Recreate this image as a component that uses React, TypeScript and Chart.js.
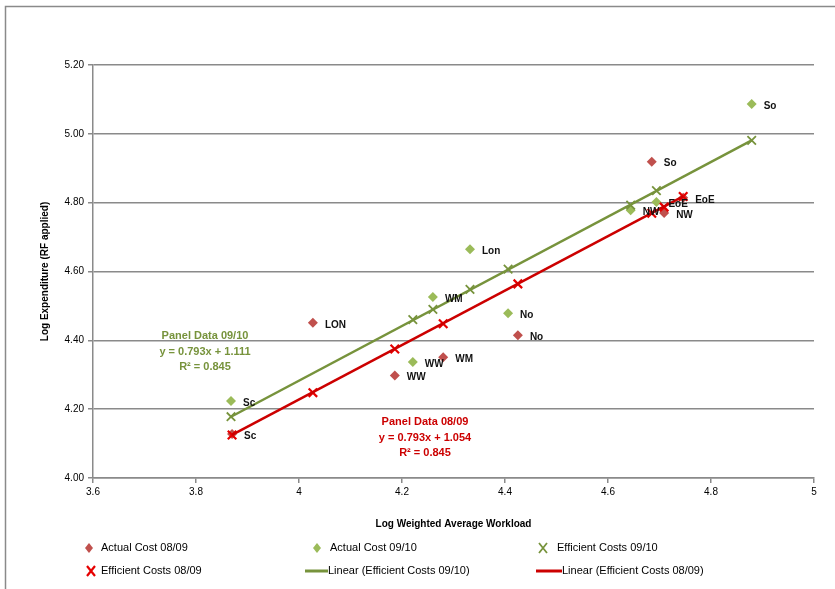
import React, { useEffect, useRef } from "react";
import { Chart, registerables } from "chart.js";

Chart.register(...registerables);

// ---- Data ----
const act0809Names = ["Sc", "LON", "WW", "WM", "No", "So", "NW", "EoE"];
const act0809X = [3.870, 4.027, 4.186, 4.280, 4.425, 4.685, 4.709, 4.746];
const act0809Y = [4.128, 4.451, 4.298, 4.351, 4.415, 4.919, 4.770, 4.814];

const act0910Names = ["Sc", "WW", "WM", "Lon", "No", "NW", "EoE", "So"];
const act0910X = [3.868, 4.221, 4.260, 4.332, 4.406, 4.644, 4.694, 4.879];
const act0910Y = [4.224, 4.337, 4.526, 4.665, 4.479, 4.778, 4.802, 5.087];

const eff0910X = [3.868, 4.221, 4.260, 4.332, 4.406, 4.644, 4.694, 4.879];
const eff0910Y = [4.178, 4.460, 4.490, 4.548, 4.607, 4.793, 4.835, 4.981];

const eff0809X = [3.870, 4.027, 4.186, 4.280, 4.425, 4.685, 4.709, 4.746];
const eff0809Y = [4.125, 4.248, 4.375, 4.448, 4.564, 4.769, 4.787, 4.818];

const lin0910X = [3.868, 4.879];
const lin0910Y = [4.178, 4.981];
const lin0809X = [3.870, 4.746];
const lin0809Y = [4.125, 4.818];

const xTicks = { min: 3.6, max: 5.0, step: 0.2 };
const yTicks = { min: 4.0, max: 5.2, step: 0.2 };

const seriesNames = [
  "Actual Cost 08/09",
  "Actual Cost 09/10",
  "Efficient Costs 09/10",
  "Efficient Costs 08/09",
  "Linear (Efficient Costs 09/10)",
  "Linear (Efficient Costs 08/09)",
];

const xTitle = "Log Weighted Average Workload";
const yTitle = "Log Expenditure (RF applied)";
const note0910 = ["Panel Data 09/10", "y = 0.793x + 1.111", "R\u00B2 = 0.845"];
const note0809 = ["Panel Data 08/09", "y = 0.793x + 1.054", "R\u00B2 = 0.845"];

// ---- Styles ----
const RED_D = "#C0504D";
const GREEN_D = "#9BBB59";
const GREEN_X = "#77933C";
const RED_X = "#E60000";
const GREEN_L = "#77933C";
const RED_L = "#CC0000";
const FONT = "'Liberation Sans Narrow', 'Liberation Sans', Arial, sans-serif";

const pts = (xs: number[], ys: number[]) => xs.map((x, i) => ({ x, y: ys[i] }));

const overlayPlugin = {
  id: "overlay",
  beforeDraw(chart: any) {
    const ctx = chart.ctx;
    ctx.save();
    ctx.strokeStyle = "#8a8a8a";
    ctx.lineWidth = 1.5;
    ctx.strokeRect(5.5, 6.5, 900, 700);
    ctx.restore();
  },
  afterDraw(chart: any) {
    const ctx = chart.ctx;
    const xs = chart.scales.x;
    const ys = chart.scales.y;
    ctx.save();
    // point labels
    ctx.font = `bold 10px ${FONT}`;
    ctx.fillStyle = "#111";
    ctx.textBaseline = "middle";
    ctx.textAlign = "left";
    const lab = (names: string[], X: number[], Y: number[]) => {
      names.forEach((n, i) => {
        ctx.fillText(n, xs.getPixelForValue(X[i]) + 12, ys.getPixelForValue(Y[i]) + 2);
      });
    };
    lab(act0809Names, act0809X, act0809Y);
    lab(act0910Names, act0910X, act0910Y);

    // annotations
    ctx.font = `bold 11px ${FONT}`;
    ctx.textAlign = "center";
    ctx.fillStyle = GREEN_L;
    note0910.forEach((t, i) => ctx.fillText(t, 205, 336 + i * 15.5));
    ctx.fillStyle = RED_L;
    note0809.forEach((t, i) => ctx.fillText(t, 425, 422 + i * 15.5));

    // axis titles
    ctx.fillStyle = "#000";
    ctx.font = `bold 10px ${FONT}`;
    ctx.fillText(xTitle, (chart.chartArea.left + chart.chartArea.right) / 2, 524);
    ctx.save();
    ctx.translate(45, (chart.chartArea.top + chart.chartArea.bottom) / 2);
    ctx.rotate(-Math.PI / 2);
    ctx.fillText(yTitle, 0, 0);
    ctx.restore();

    // legend
    ctx.font = `11px ${FONT}`;
    ctx.textAlign = "left";
    ctx.fillStyle = "#000";
    const diamond = (x: number, y: number, c: string) => {
      ctx.fillStyle = c;
      ctx.beginPath();
      ctx.moveTo(x, y - 5);
      ctx.lineTo(x + 4, y);
      ctx.lineTo(x, y + 5);
      ctx.lineTo(x - 4, y);
      ctx.closePath();
      ctx.fill();
    };
    const cross = (x: number, y: number, c: string, w: number) => {
      ctx.strokeStyle = c;
      ctx.lineWidth = w;
      ctx.beginPath();
      ctx.moveTo(x - 4, y - 5);
      ctx.lineTo(x + 4, y + 5);
      ctx.moveTo(x + 4, y - 5);
      ctx.lineTo(x - 4, y + 5);
      ctx.stroke();
    };
    const line = (x1: number, x2: number, y: number, c: string) => {
      ctx.strokeStyle = c;
      ctx.lineWidth = 3;
      ctx.beginPath();
      ctx.moveTo(x1, y);
      ctx.lineTo(x2, y);
      ctx.stroke();
    };
    const text = (t: string, x: number, y: number) => {
      ctx.fillStyle = "#000";
      ctx.fillText(t, x, y);
    };
    const r1 = 548, r2 = 571;
    diamond(89, r1, RED_D);
    text(seriesNames[0], 101, r1);
    diamond(317, r1, GREEN_D);
    text(seriesNames[1], 330, r1);
    cross(543, r1, GREEN_X, 1.8);
    text(seriesNames[2], 557, r1);
    cross(91, r2, RED_X, 2.2);
    text(seriesNames[3], 101, r2);
    line(305, 328, r2, GREEN_L);
    text(seriesNames[4], 328, r2);
    line(536, 562, r2, RED_L);
    text(seriesNames[5], 562, r2);
    ctx.restore();
  },
};

export default function App() {
  const ref = useRef<HTMLCanvasElement | null>(null);
  useEffect(() => {
    if (!ref.current) return;
    const chart = new Chart(ref.current, {
      type: "scatter",
      data: {
        datasets: [
          {
            label: seriesNames[0],
            data: pts(act0809X, act0809Y),
            pointStyle: "rectRot",
            pointRadius: 5,
            backgroundColor: RED_D,
            borderColor: RED_D,
            borderWidth: 0,
            order: 6,
          },
          {
            label: seriesNames[1],
            data: pts(act0910X, act0910Y),
            pointStyle: "rectRot",
            pointRadius: 5,
            backgroundColor: GREEN_D,
            borderColor: GREEN_D,
            borderWidth: 0,
            order: 5,
          },
          {
            label: seriesNames[2],
            data: pts(eff0910X, eff0910Y),
            pointStyle: "crossRot",
            pointRadius: 6,
            borderColor: GREEN_X,
            backgroundColor: GREEN_X,
            borderWidth: 1.8,
            order: 4,
          },
          {
            label: seriesNames[3],
            data: pts(eff0809X, eff0809Y),
            pointStyle: "crossRot",
            pointRadius: 6,
            borderColor: RED_X,
            backgroundColor: RED_X,
            borderWidth: 2.2,
            order: 3,
          },
          {
            type: "line",
            label: seriesNames[4],
            data: pts(lin0910X, lin0910Y),
            borderColor: GREEN_L,
            borderWidth: 2.5,
            pointRadius: 0,
            showLine: true,
            fill: false,
            order: 2,
          } as any,
          {
            type: "line",
            label: seriesNames[5],
            data: pts(lin0809X, lin0809Y),
            borderColor: RED_L,
            borderWidth: 2.5,
            pointRadius: 0,
            showLine: true,
            fill: false,
            order: 1,
          } as any,
        ],
      },
      options: {
        responsive: false,
        animation: false,
        layout: { padding: { top: 65, right: 21, left: 0, bottom: 0 } },
        plugins: {
          legend: { display: false },
          tooltip: { enabled: false },
        },
        scales: {
          x: {
            type: "linear",
            min: xTicks.min,
            max: xTicks.max,
            ticks: {
              stepSize: xTicks.step,
              color: "#000",
              font: { family: FONT, size: 10 },
              padding: 3,
              callback: (v: any) => String(Math.round(Number(v) * 10) / 10),
            },
            grid: {
              drawOnChartArea: false,
              drawTicks: true,
              tickLength: 5,
              color: "#8a8a8a",
              lineWidth: 1.5,
            },
            border: { color: "#8a8a8a", width: 1.5 },
            afterFit: (s: any) => {
              s.height = 111;
            },
          },
          y: {
            type: "linear",
            min: yTicks.min,
            max: yTicks.max,
            ticks: {
              stepSize: yTicks.step,
              color: "#000",
              font: { family: FONT, size: 10 },
              padding: 4,
              callback: (v: any) => Number(v).toFixed(2),
            },
            grid: {
              drawTicks: true,
              tickLength: 5,
              color: "#8a8a8a",
              lineWidth: 1.5,
            },
            border: { color: "#8a8a8a", width: 1.5 },
            afterFit: (s: any) => {
              s.width = 93;
            },
          },
        },
      },
      plugins: [overlayPlugin],
    } as any);
    return () => chart.destroy();
  }, []);
  return (
    <div style={{ position: "fixed", left: 0, top: 0, width: 835, height: 589, background: "#fff" }}>
      <canvas ref={ref} width={835} height={589} style={{ display: "block" }} />
    </div>
  );
}
